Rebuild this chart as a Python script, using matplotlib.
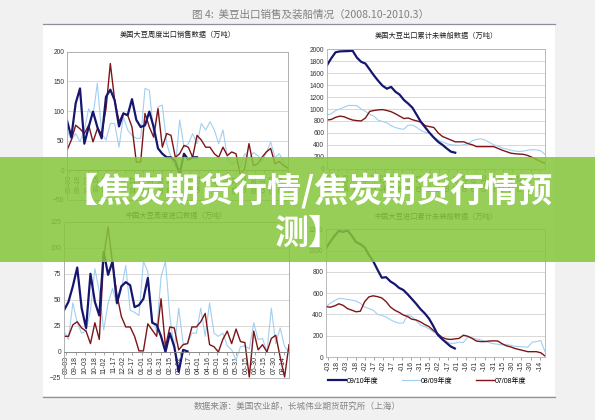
import numpy as np
import matplotlib.pyplot as plt
from matplotlib.patches import Rectangle
from matplotlib.lines import Line2D

plt.rcParams['font.family'] = ['Liberation Sans', 'Noto Sans CJK SC', 'DejaVu Sans']

# ---- data ----
date_labels = ['09-03', '09-18', '10-03', '10-18', '11-02', '11-17', '12-02', '12-17',
               '01-01', '01-16', '01-31', '02-15', '03-02', '03-17', '04-01', '04-16',
               '05-01', '05-16', '05-31', '06-15', '06-30', '07-15', '07-30', '08-14']
short_labels = ['-' + s.split('-')[1] for s in date_labels]
series_names = ['09/10年度', '08/09年度', '07/08年度']

# 美国大豆周度出口销售 (万吨)
tl_0910 = [84, 56, 113, 138, 45, 73, 99, 73, 54, 124, 136, 118, 74, 96, 93, 120, 85, 73, 76,
           99, 73, 37, 28, 22, 22, 15, -6, 28, 18, 22, 22]
tl_0809 = [68, 51, 62, 48, 68, 104, 91, 147, 62, 51, 79, 79, 39, 90, 68, 59, 54, 54, 138, 135,
           62, 107, 110, 45, 22, 5, 85, 39, 45, 62, 45, 79, 68, 82, 68, 45, 68, 22, 10, 15, 5,
           28, 20, 30, 25, 15, 30, 48, 22, 28, 15, 0]
tl_0708 = [34, 51, 76, 70, 62, 76, 48, 70, 62, 104, 180, 118, 82, 96, 93, 73, 14, 14, 96, 73,
           56, 104, 39, 62, 59, 22, 28, 42, 39, 22, 59, 51, 39, 39, 28, 22, 39, 25, 31, 28, -8,
           3, 45, 8, 11, 22, 31, 37, 11, 15, 8, 4]

# 美国大豆出口累计未装船 (万吨)
tr_0910 = [1734, 1850, 1950, 1965, 1968, 1970, 1975, 1860, 1790, 1760, 1660, 1560, 1470, 1390,
           1340, 1370, 1290, 1240, 1150, 1090, 1020, 900, 780, 690, 600, 520, 450, 400, 340,
           285, 268]
tr_0809 = [899, 920, 975, 1000, 1030, 1060, 1060, 1055, 1000, 960, 910, 880, 810, 790, 770,
           720, 690, 670, 660, 730, 730, 690, 640, 610, 590, 530, 480, 450, 420, 400, 395, 390,
           400, 420, 470, 490, 500, 480, 440, 400, 380, 350, 330, 310, 295, 290, 295, 310, 320,
           315, 300, 240]
tr_0708 = [815, 825, 860, 880, 870, 840, 815, 805, 800, 850, 960, 975, 985, 990, 975, 955, 920,
           880, 840, 850, 820, 800, 780, 720, 705, 690, 600, 540, 510, 480, 450, 450, 450, 420,
           400, 370, 370, 370, 370, 370, 340, 310, 285, 260, 250, 245, 240, 220, 190, 155, 120, 90]

# 中国大豆周度进口 (万吨)
bl_0910 = [40, 48, 63, 81, 42, 23, 75, 48, 35, 96, 74, 87, 47, 63, 67, 64, 43, 45, 51, 71, 28,
           26, 15, 0, 18, 5, -19, 2, 0.5]
bl_0809 = [20, 12, 47, 28, 18, 20, 40, 80, 58, 21, 47, 61, 45, 60, 83, 40, 38, 35, 87, 77, 31,
           20, 72, 87, 34, 3, 42, 8, 8, 18, 18, 42, 15, 47, 18, 15, 18, 6, 2, -8, 5, 6, 3, 28,
           12, 13, 0, 42, 8, 23, 5, 0]
bl_0708 = [15, 15, 26, 29, 23, 20, 8, 28, 12, 91, 120, 85, 55, 34, 24, 24, 15, 1, 1, 27, 21,
           15, 51, 5, 24, 23, 2, 7, 8, 24, 24, 29, 37, 7, 5, 0, 12, 20, 8, 22, 10, 9, -24, 20,
           2, 7, 0, 13, 16, -5, -24, 7]

# 中国大豆进口累计未装船 (万吨)
br_0910 = [1021, 1084, 1140, 1185, 1175, 1190, 1140, 1080, 1060, 1030, 960, 900, 820, 745,
           750, 710, 685, 650, 630, 590, 545, 500, 450, 410, 360, 290, 210, 170, 135, 100, 80]
br_0809 = [473, 505, 530, 550, 548, 540, 535, 525, 505, 470, 455, 440, 400, 390, 375, 350, 330,
           318, 320, 395, 380, 340, 300, 285, 265, 235, 205, 165, 145, 128, 130, 140, 135, 190,
           180, 170, 160, 150, 135, 125, 120, 113, 118, 110, 100, 97, 95, 92, 140, 145, 155, 50]
br_0708 = [473, 468, 480, 500, 485, 455, 440, 425, 430, 520, 565, 575, 567, 555, 520, 470, 440,
           420, 395, 380, 355, 348, 330, 305, 285, 250, 220, 185, 170, 165, 170, 175, 205, 195,
           175, 150, 145, 145, 150, 152, 150, 125, 105, 95, 80, 70, 60, 50, 50, 50, 40, 10]

colors = ['#16166e', '#a2cff0', '#7d1418']
widths = [1.6, 0.8, 1.0]

W, H = 595, 420


def fx(px):
    return px / W


def fy(py):
    return 1 - py / H


fig = plt.figure(figsize=(5.95, 4.2), dpi=100)
fig.patch.set_facecolor('#f1f1f1')

# white page area + rules
fig.add_artist(Rectangle((fx(43), fy(396)), fx(555) - fx(43), fy(24) - fy(396),
                         transform=fig.transFigure, facecolor='white', edgecolor='none', zorder=-5))
for yy in [23.5, 396.5]:
    fig.add_artist(Line2D([fx(43), fx(555)], [fy(yy), fy(yy)], transform=fig.transFigure,
                          color='#8e8ea0', lw=0.9, zorder=-4))

fig.text(fx(311), fy(15), '图 4:  美豆出口销售及装船情况（2008.10-2010.3）',
         ha='center', va='center', fontsize=7.6, color='#808080',
         family=['Noto Sans CJK SC', 'DejaVu Sans'])
fig.text(fx(297), fy(406), '数据来源：美国农业部，长城伟业期货研究所（上海）',
         ha='center', va='center', fontsize=6.2, color='#858585',
         family=['Noto Sans CJK SC', 'DejaVu Sans'])


def make_ax(l, r, t, b, ylim, yticks, title, title_y, weekly):
    ax = fig.add_axes([fx(l), fy(b), fx(r) - fx(l), fy(t) - fy(b)])
    ax.set_xlim(0, 51)
    ax.set_ylim(*ylim)
    ax.set_yticks(yticks)
    ax.tick_params(axis='y', labelsize=4.8, length=0, pad=2, labelcolor='#333333')
    ax.grid(axis='y', color='#c9c9c9', lw=0.5)
    ax.set_axisbelow(True)
    for s in ax.spines.values():
        s.set_color('#b0b0b0')
        s.set_linewidth(0.6)
    if weekly:
        # category axis crosses at zero, labels hang below it
        ax.spines['bottom'].set_position(('data', 0))
        ax.spines['bottom'].set_color('#7f7f7f')
        ax.add_patch(Rectangle((0, 0), 1, 1, transform=ax.transAxes, fill=False,
                               edgecolor='#b0b0b0', lw=0.6, clip_on=False))
    fig.text((fx(l) + fx(r)) / 2, fy(title_y), title, ha='center', va='center',
             fontsize=5.2, color='#222222')
    return ax


tick_pos = [0.5 + i * 15 / 7 for i in range(len(date_labels))]

axes = [
    make_ax(67, 288, 51.7, 200, (-50, 200), range(-50, 201, 50),
            '美国大豆周度出口销售数据（万吨）', 35, True),
    make_ax(327, 545, 49.3, 168.7, (0, 2000), range(0, 2001, 200),
            '美国大豆出口累计未装船数据（万吨）', 36, False),
    make_ax(64, 289, 221.7, 378, (-25, 125), range(-25, 126, 25),
            '中国大豆周度进口数据（万吨）', 216, True),
    make_ax(326, 545, 229.3, 357, (0, 1200), range(0, 1201, 200),
            '中国大豆进口累计未装船数据（万吨）', 217, False),
]
data = [(tl_0910, tl_0809, tl_0708), (tr_0910, tr_0809, tr_0708),
        (bl_0910, bl_0809, bl_0708), (br_0910, br_0809, br_0708)]

for k, (ax, series) in enumerate(zip(axes, data)):
    # draw in order: 08/09, 07/08, 09/10 on top
    for j in [1, 2, 0]:
        vals = series[j]
        ax.plot(np.arange(len(vals)), vals, color=colors[j], lw=widths[j],
                label=series_names[j], solid_joinstyle='round')
    labs = short_labels if k == 3 else date_labels
    ax.set_xticks(tick_pos, labs, rotation=90)
    ax.tick_params(axis='x', labelsize=5, length=2, width=0.5, pad=1,
                   color='#7f7f7f', labelcolor='#333333')

h, l = axes[3].get_legend_handles_labels()
order = [l.index(n) for n in series_names]
fig.legend([h[i] for i in order], [l[i] for i in order], loc='center',
           bbox_to_anchor=(fx(427), fy(381)), ncol=3, frameon=False, fontsize=5,
           handlelength=2.6, handletextpad=0.0, columnspacing=3.5)

# green banner over the figure
fig.add_artist(Rectangle((0, fy(262)), 1, (262 - 157) / H, transform=fig.transFigure,
                         facecolor='#86c63b', edgecolor='none', alpha=0.86, zorder=10))
banner_font = ['Noto Sans CJK SC', 'DejaVu Sans']
fig.text(fx(308), fy(191), '【焦炭期货行情/焦炭期货行情预', ha='center', va='center',
         fontsize=24.5, fontweight='bold', color='white', family=banner_font, zorder=11)
fig.text(fx(308), fy(233), '测】', ha='center', va='center',
         fontsize=24.5, fontweight='bold', color='white', family=banner_font, zorder=11)

fig.savefig('out.png', dpi=100, facecolor=fig.get_facecolor())
